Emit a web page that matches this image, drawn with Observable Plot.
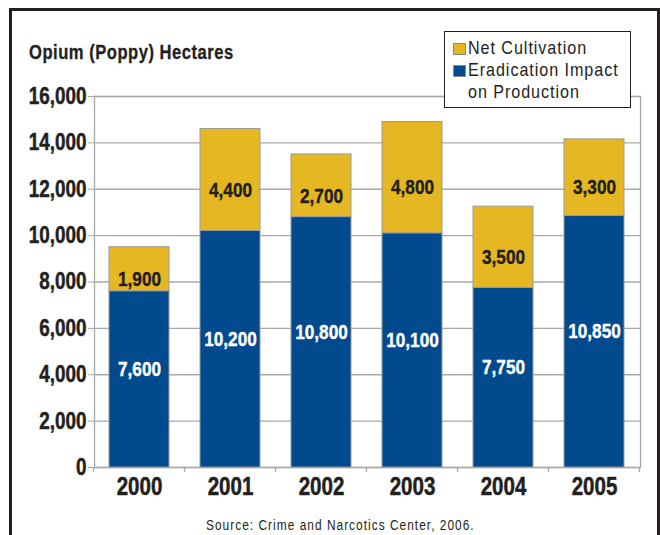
<!DOCTYPE html>
<html>
<head>
<meta charset="utf-8">
<script src="https://cdn.jsdelivr.net/npm/d3@7"></script>
<script src="https://cdn.jsdelivr.net/npm/@observablehq/plot@0.6"></script>
<style>
  html, body { margin: 0; padding: 0; background: #fff; }
  #wrap { position: relative; width: 660px; height: 535px; overflow: hidden; background: #fff;
    font-family: "Liberation Sans", Arial, sans-serif; color: #231f20; }
  #outer { position: absolute; left: 9px; top: 8px; width: 651px; height: 600px; box-sizing: border-box;
    border: 3px solid #231f20; }
  #chart { position: absolute; left: 0; top: 0; }
  .cond { transform: scaleX(0.85); transform-origin: 0 0; white-space: nowrap; }
  #title { position: absolute; left: 29px; top: 40px; font-size: 19.5px; font-weight: bold; letter-spacing: 0.6px; line-height: 24px; -webkit-text-stroke: 0.3px #231f20; }
  #legend { position: absolute; left: 444px; top: 31px; width: 187px; height: 77px; box-sizing: border-box;
    border: 1px solid #231f20; background: #fff; }
  .sw { position: absolute; left: 8px; width: 13px; height: 12px; border: 1px solid #8a8a8a; box-sizing: border-box; }
  .li { position: absolute; left: 23px; font-size: 19px; line-height: 22px; letter-spacing: 1.1px; }
  #source { position: absolute; left: 206px; top: 516px; font-size: 14px; line-height: 18px; letter-spacing: 1.2px; }
</style>
</head>
<body>
<div id="wrap">
  <div id="outer"></div>
  <div id="chart"></div>
  <div id="title" class="cond"></div>
  <div id="legend"></div>
  <div id="source" class="cond"></div>
</div>
<script>
// ---- data ----
const years = ["2000", "2001", "2002", "2003", "2004", "2005"];
const eradication = [7600, 10200, 10800, 10100, 7750, 10850];
const netCultivation = [1900, 4400, 2700, 4800, 3500, 3300];
const seriesNames = ["Eradication Impact on Production", "Net Cultivation"];
const seriesColors = ["#004a8d", "#e5b823"];
const yTicks = [0, 2000, 4000, 6000, 8000, 10000, 12000, 14000, 16000];
const titleText = "Opium (Poppy) Hectares";
const legendLines = [["Net Cultivation"], ["Eradication Impact", "on Production"]];
const sourceText = "Source: Crime and Narcotics Center, 2006.";

// ---- tables built from the arrays ----
const rows = [];
years.forEach((yr, i) => {
  rows.push({year: yr, series: seriesNames[0], value: eradication[i]});
  rows.push({year: yr, series: seriesNames[1], value: netCultivation[i]});
});
const fmt = d3.format(",");
const blueLabels = years.map((yr, i) => ({year: yr, mid: eradication[i] / 2, text: fmt(eradication[i])}));
const yellowLabels = years.map((yr, i) => ({year: yr, mid: eradication[i] + netCultivation[i] / 2, text: fmt(netCultivation[i])}));

const fontFam = '"Liberation Sans", Arial, sans-serif';
const grey = "#a7a9ac";
const ink = "#231f20";

const plot = Plot.plot({
  width: 660,
  height: 535,
  marginLeft: 94,
  marginRight: 20,
  marginTop: 96,
  marginBottom: 68,
  style: {fontFamily: fontFam, color: ink, background: "transparent"},
  x: {domain: years, paddingInner: 0.34, paddingOuter: 0.17, label: null},
  y: {domain: [0, 16000], label: null},
  color: {domain: seriesNames, range: seriesColors},
  marks: [
    Plot.gridY(yTicks, {stroke: grey, strokeOpacity: 1, strokeWidth: 1.3}),
    Plot.frame({stroke: grey, strokeWidth: 1.3}),
    Plot.barY(rows, {x: "year", y: "value", fill: "series", stroke: "#9a9a9a", strokeWidth: 1, order: null}),
    Plot.text(blueLabels, {x: "year", y: "mid", text: "text", fill: "white", stroke: "white", strokeWidth: 0.4, fontSize: 21, fontWeight: "bold", dy: -10}),
    Plot.text(yellowLabels, {x: "year", y: "mid", text: "text", fill: ink, stroke: ink, strokeWidth: 0.4, fontSize: 21, fontWeight: "bold", dy: 10}),
    Plot.axisY({ticks: yTicks, tickFormat: d => fmt(d), tickSize: 6, tickPadding: 2, stroke: grey, fontSize: 23, fontWeight: "bold", label: null}),
    Plot.axisX({tickSize: 0, tickPadding: 10, fontSize: 25, fontWeight: "bold", label: null})
  ]
});

// boundary ticks under the x axis, from the plot's own scales
const xs = plot.scale("x");
const ys = plot.scale("y");
const y0 = ys.apply(0);
const gap = (xs.step - xs.bandwidth) / 2;
const edges = years.map(yr => xs.apply(yr) - gap);
edges.push(xs.apply(years[years.length - 1]) + xs.bandwidth + gap);
d3.select(plot).append("g").selectAll("line").data(edges).join("line")
  .attr("x1", d => d).attr("x2", d => d).attr("y1", y0).attr("y2", y0 + 5)
  .attr("stroke", grey).attr("stroke-width", 1.3);

document.getElementById("chart").appendChild(plot);

// heavier axis labels
d3.select(plot).selectAll('g[aria-label="y-axis tick label"] text, g[aria-label="x-axis tick label"] text')
  .attr("stroke", ink).attr("stroke-width", 0.5);

// condense all svg text (narrow bold look)
d3.select(plot).selectAll("text").each(function() {
  const len = this.getComputedTextLength();
  if (len > 0) {
    this.setAttribute("textLength", (len * 0.82).toFixed(2));
    this.setAttribute("lengthAdjust", "spacingAndGlyphs");
  }
});

// title, legend, source
document.getElementById("title").textContent = titleText;
document.getElementById("source").textContent = sourceText;
const legend = document.getElementById("legend");
const order = [1, 0];
let line = 0;
order.forEach((si, k) => {
  const sw = document.createElement("div");
  sw.className = "sw";
  sw.style.top = (11 + line * 22) + "px";
  sw.style.background = seriesColors[si];
  legend.appendChild(sw);
  legendLines[k].forEach(t => {
    const li = document.createElement("div");
    li.className = "li cond";
    li.style.top = (5 + line * 22) + "px";
    li.textContent = t;
    legend.appendChild(li);
    line++;
  });
});
</script>
</body>
</html>
